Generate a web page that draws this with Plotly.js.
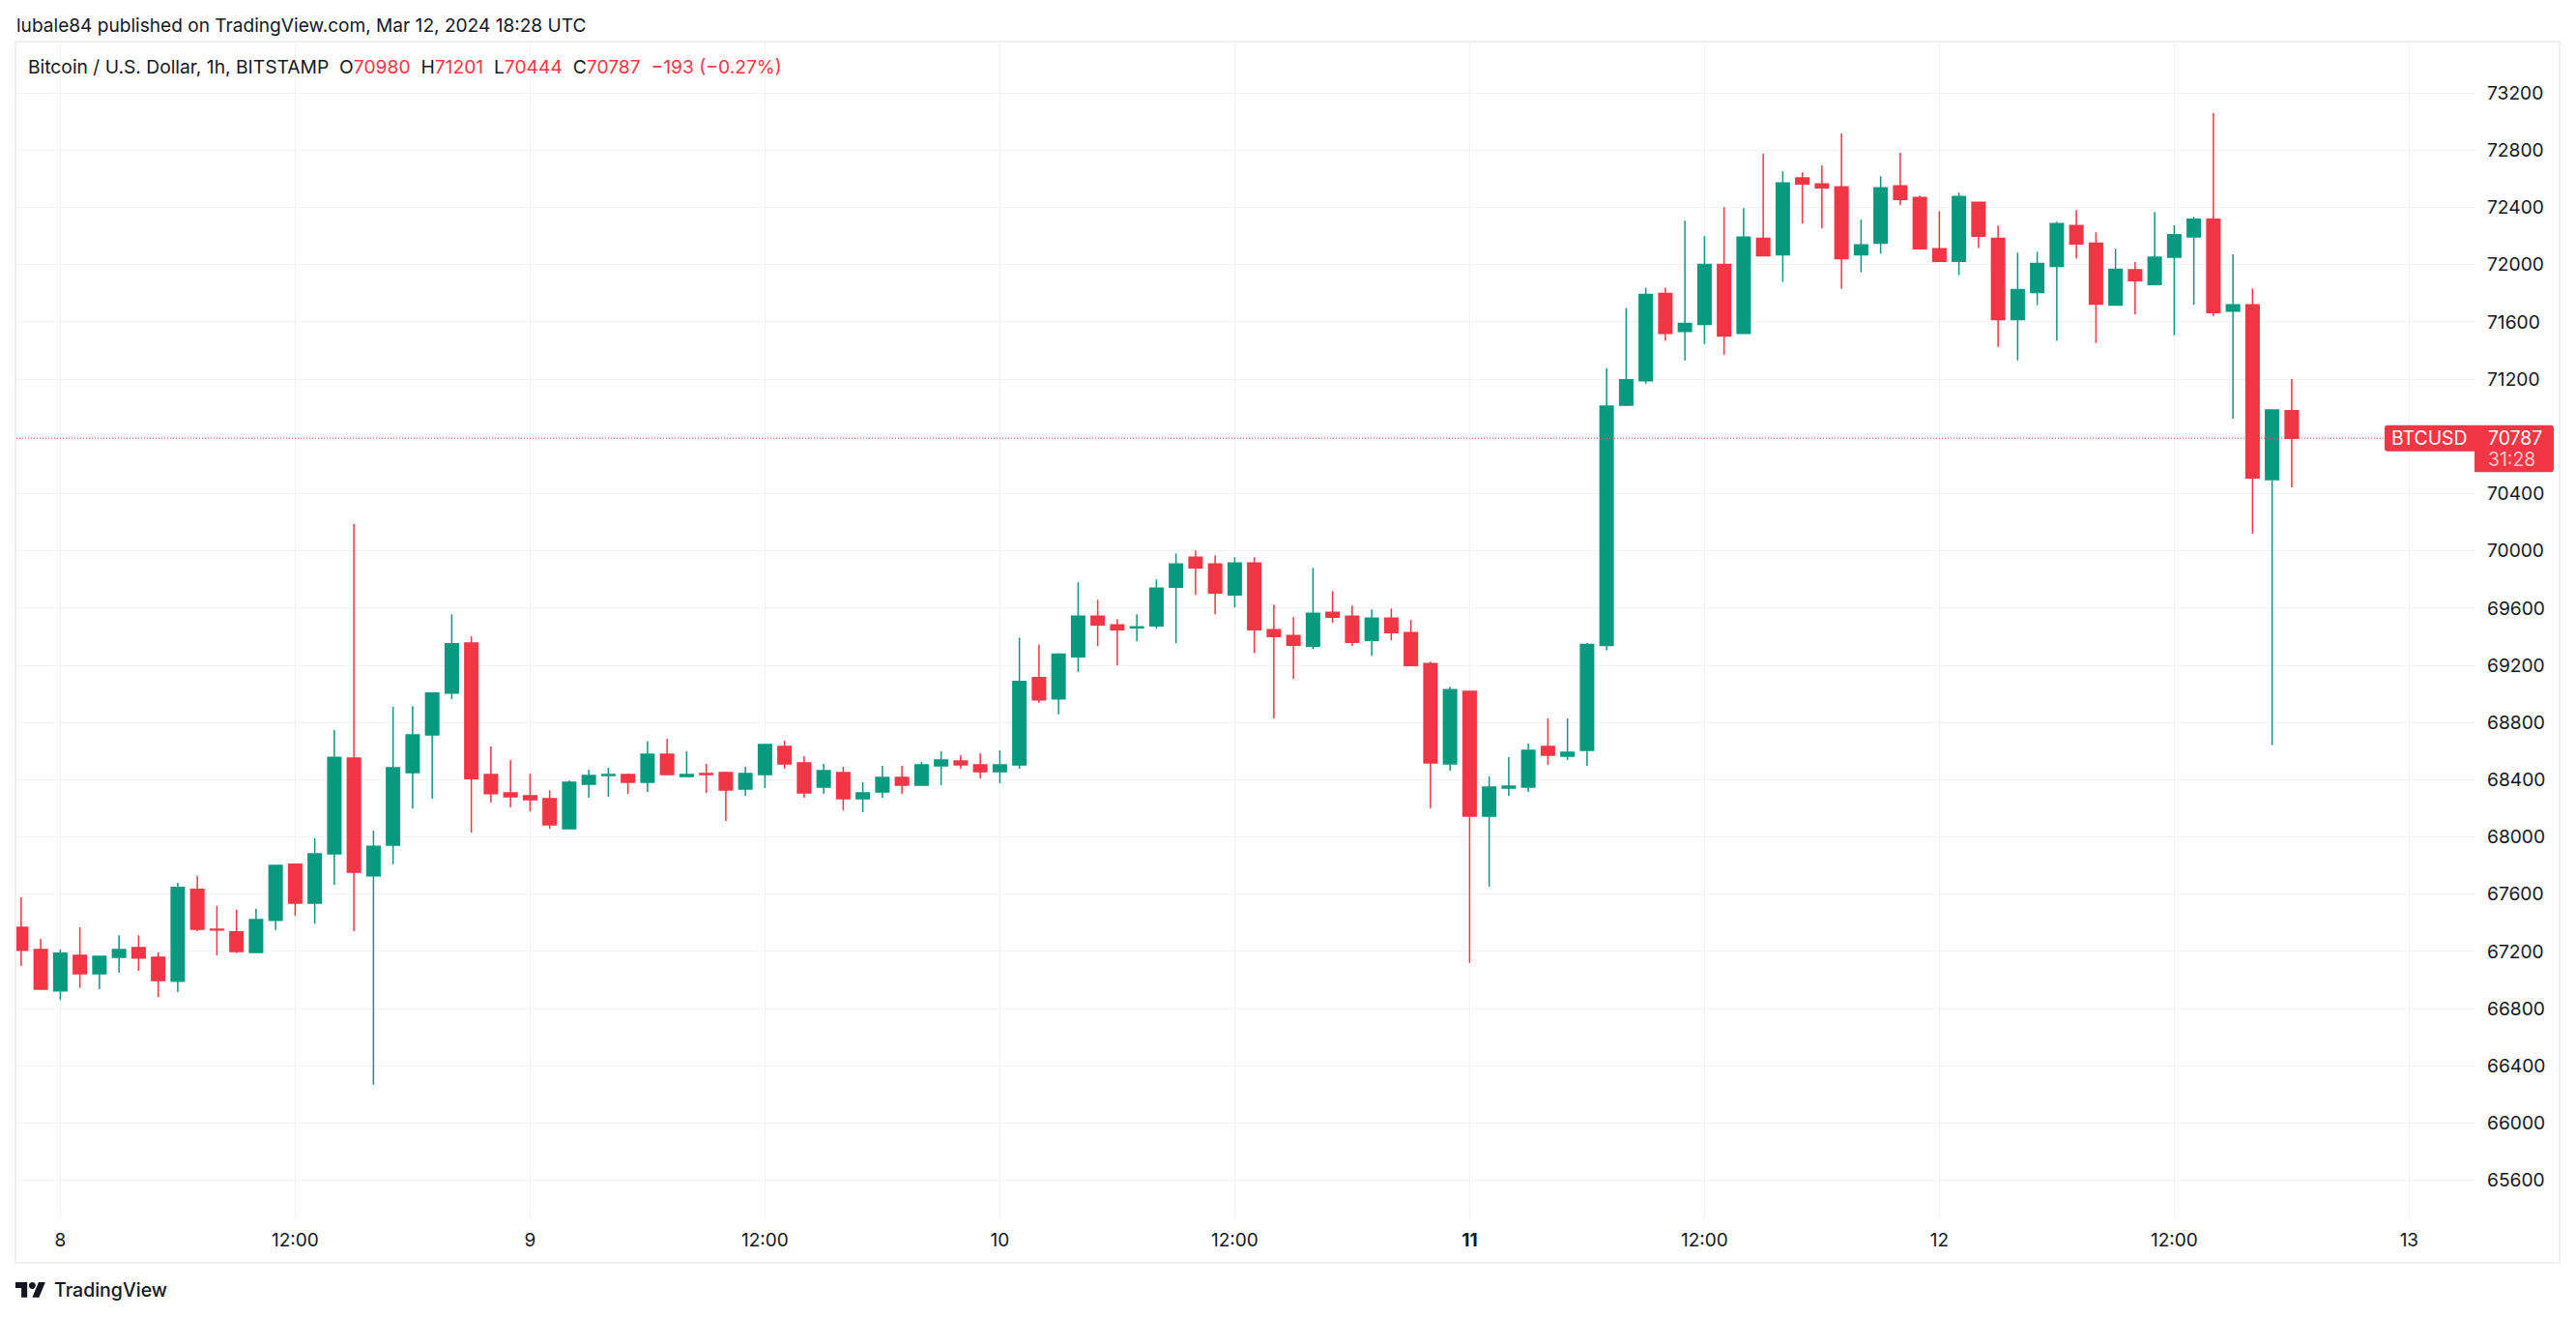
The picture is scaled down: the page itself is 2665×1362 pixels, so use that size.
<!DOCTYPE html>
<html>
<head>
<meta charset="utf-8">
<script src="https://cdn.plot.ly/plotly-3.0.1.min.js"></script>
<style>html,body{margin:0;padding:0;background:#fff}#chart{width:2665px;height:1362px}</style>
</head>
<body>
<div id="chart"></div>
<script>
const times = [
"2024-03-07 22:00","2024-03-07 23:00",
"2024-03-08 00:00","2024-03-08 01:00","2024-03-08 02:00","2024-03-08 03:00","2024-03-08 04:00","2024-03-08 05:00","2024-03-08 06:00","2024-03-08 07:00","2024-03-08 08:00","2024-03-08 09:00","2024-03-08 10:00","2024-03-08 11:00","2024-03-08 12:00","2024-03-08 13:00","2024-03-08 14:00","2024-03-08 15:00","2024-03-08 16:00","2024-03-08 17:00","2024-03-08 18:00","2024-03-08 19:00","2024-03-08 20:00","2024-03-08 21:00","2024-03-08 22:00","2024-03-08 23:00",
"2024-03-09 00:00","2024-03-09 01:00","2024-03-09 02:00","2024-03-09 03:00","2024-03-09 04:00","2024-03-09 05:00","2024-03-09 06:00","2024-03-09 07:00","2024-03-09 08:00","2024-03-09 09:00","2024-03-09 10:00","2024-03-09 11:00","2024-03-09 12:00","2024-03-09 13:00","2024-03-09 14:00","2024-03-09 15:00","2024-03-09 16:00","2024-03-09 17:00","2024-03-09 18:00","2024-03-09 19:00","2024-03-09 20:00","2024-03-09 21:00","2024-03-09 22:00","2024-03-09 23:00",
"2024-03-10 00:00","2024-03-10 01:00","2024-03-10 02:00","2024-03-10 03:00","2024-03-10 04:00","2024-03-10 05:00","2024-03-10 06:00","2024-03-10 07:00","2024-03-10 08:00","2024-03-10 09:00","2024-03-10 10:00","2024-03-10 11:00","2024-03-10 12:00","2024-03-10 13:00","2024-03-10 14:00","2024-03-10 15:00","2024-03-10 16:00","2024-03-10 17:00","2024-03-10 18:00","2024-03-10 19:00","2024-03-10 20:00","2024-03-10 21:00","2024-03-10 22:00","2024-03-10 23:00",
"2024-03-11 00:00","2024-03-11 01:00","2024-03-11 02:00","2024-03-11 03:00","2024-03-11 04:00","2024-03-11 05:00","2024-03-11 06:00","2024-03-11 07:00","2024-03-11 08:00","2024-03-11 09:00","2024-03-11 10:00","2024-03-11 11:00","2024-03-11 12:00","2024-03-11 13:00","2024-03-11 14:00","2024-03-11 15:00","2024-03-11 16:00","2024-03-11 17:00","2024-03-11 18:00","2024-03-11 19:00","2024-03-11 20:00","2024-03-11 21:00","2024-03-11 22:00","2024-03-11 23:00",
"2024-03-12 00:00","2024-03-12 01:00","2024-03-12 02:00","2024-03-12 03:00","2024-03-12 04:00","2024-03-12 05:00","2024-03-12 06:00","2024-03-12 07:00","2024-03-12 08:00","2024-03-12 09:00","2024-03-12 10:00","2024-03-12 11:00","2024-03-12 12:00","2024-03-12 13:00","2024-03-12 14:00","2024-03-12 15:00","2024-03-12 16:00","2024-03-12 17:00","2024-03-12 18:00"
];
const opens = [
67369,67212,66924,67173,67044,67159,67227,67159,66991,67633,
67355,67336,67193,67417,67809,67537,67882,68551,67728,67943,
68450,68714,69005,69355,68437,68308,68288,68268,68058,68368,
68429,68436,68382,68579,68423,68443,68450,68335,68436,68633,
68518,68348,68450,68267,68314,68416,68362,68497,68531,68504,
68457,68504,69114,68965,69260,69543,69482,69462,69476,69746,
69955,69908,69692,69914,69449,69408,69334,69570,69543,69374,
69530,69428,69212,68510,69017,68146,68342,68348,68633,68565,
68605,69338,71019,71189,71799,71534,71582,72002,71521,72185,
72070,72606,72565,72545,72070,72151,72551,72470,72111,72023,
72436,72185,71616,71806,71989,72273,72151,71718,71964,71862,
72052,72194,72317,71675,71720,70498,70980];
const highs = [
67579,67288,67212,67369,67165,67313,67313,67193,67680,67728,
67518,67490,67498,67801,67815,67991,68747,70187,68044,68910,
68915,69005,69557,69403,68633,68537,68442,68327,68394,68470,
68484,68443,68667,68687,68599,68511,68457,68490,68646,68673,
68565,68511,68490,68382,68497,68497,68524,68599,68572,68585,
68606,69392,69345,69284,69779,69658,69523,69557,69800,69982,
70002,69968,69955,69955,69624,69536,69881,69719,69617,69590,
69597,69516,69226,69050,69017,68423,68558,68652,68829,68829,
69358,71277,71697,71840,71840,72307,72199,72402,72395,72775,
72653,72646,72694,72918,72314,72619,72782,72484,72375,72504,
72436,72273,72084,72090,72301,72382,72226,72112,72019,72369,
72275,72335,73059,72073,71835,70984,71201];
const lows = [
67098,66930,66862,66944,66935,67050,67064,66882,66916,67341,
67173,67187,67193,67350,67450,67394,67666,67341,66268,67809,
68198,68268,68963,68030,68240,68207,68179,68058,68058,68274,
68280,68301,68314,68436,68423,68307,68111,68287,68341,68477,
68274,68301,68185,68172,68274,68301,68362,68362,68477,68409,
68375,68477,68938,68857,69152,69334,69199,69368,69456,69354,
69692,69557,69604,69287,68828,69104,69314,69496,69334,69266,
69374,69199,68200,68463,67120,67653,68288,68315,68504,68538,
68497,69304,71012,71168,71467,71331,71446,71372,71521,72063,
71880,72287,72253,71833,71948,72077,72416,72111,72023,71928,
72117,71426,71331,71718,71467,72043,71453,71718,71654,71862,
71506,71720,71642,70924,70121,68643,70444];
const closes = [
67207,66935,67187,67044,67165,67212,67154,66997,67647,67355,
67350,67199,67423,67801,67537,67882,68557,67753,67935,68484,
68714,69005,69350,68408,68302,68280,68260,68084,68383,68429,
68436,68382,68579,68436,68436,68436,68328,68443,68646,68511,
68307,68463,68267,68307,68416,68362,68504,68538,68504,68457,
68504,69087,68958,69277,69543,69482,69449,69469,69739,69908,
69881,69705,69914,69449,69401,69341,69563,69536,69361,69530,
69428,69199,68517,69030,68146,68348,68355,68605,68572,68592,
69345,71012,71195,71792,71521,71589,72002,71501,72192,72063,
72572,72565,72538,72043,72138,72538,72456,72111,72023,72477,
72199,71616,71826,72009,72287,72145,71724,71968,71889,72052,
72209,72317,71666,71720,70510,70984,70787];

const xTickVals = ["2024-03-08 00:00","2024-03-08 12:00","2024-03-09 00:00","2024-03-09 12:00","2024-03-10 00:00","2024-03-10 12:00","2024-03-11 00:00","2024-03-11 12:00","2024-03-12 00:00","2024-03-12 12:00","2024-03-13 00:00"];
const xTickText = ["8","12:00","9","12:00","10","12:00","<b>11</b>","12:00","12","12:00","13"];
const yTickVals = [65600,66000,66400,66800,67200,67600,68000,68400,68800,69200,69600,70000,70400,70800,71200,71600,72000,72400,72800,73200];
const lastClose = 70787;
const UP = "#089981", DOWN = "#F23645", INK = "#131722", GRID = "#f1f2f5", FRAME = "#eff0f5";
const FONT = "Inter, 'Open Sans', sans-serif";

const L = 17, R = 2560, T = 44, B = 1261;
const px = v => (v - L) / (R - L);
const py = v => (B - v) / (B - T);
const fixed = (x, y, text, size, extra) => Object.assign({
  xref: "paper", yref: "paper", x: px(x), y: py(y), text, showarrow: false,
  xanchor: "left", yanchor: "middle", align: "left",
  font: {family: FONT, size, color: INK}
}, extra || {});
const red = s => '<span style="color:' + DOWN + '">' + s + '</span>';

const trace = {
  type: "candlestick", x: times, open: opens, high: highs, low: lows, close: closes,
  increasing: {line: {color: UP, width: 1.5}, fillcolor: UP},
  decreasing: {line: {color: DOWN, width: 1.5}, fillcolor: DOWN},
  whiskerwidth: 0, showlegend: false, hoverinfo: "none"
};

const layout = {
  width: 2665, height: 1362, autosize: false,
  margin: {l: L, r: 2665 - R, t: T, b: 1362 - B, pad: 0},
  paper_bgcolor: "#fff", plot_bgcolor: "#fff",
  showlegend: false, dragmode: false,
  boxgap: 0.183, boxgroupgap: 0.183,
  font: {family: FONT, color: INK},
  xaxis: {
    type: "date", range: ["2024-03-07 21:45:30", "2024-03-13 03:20:24"],
    tickmode: "array", tickvals: xTickVals, ticktext: xTickText, tickangle: 0,
    showgrid: true, gridcolor: GRID, gridwidth: 1, zeroline: false, showline: false,
    ticks: "", ticklabelstandoff: 8, tickfont: {family: FONT, size: 19, color: INK},
    rangeslider: {visible: false}
  },
  yaxis: {
    side: "right", range: [65327, 73553],
    tickmode: "array", tickvals: yTickVals, ticktext: yTickVals.map(String), tickangle: 0,
    showgrid: true, gridcolor: GRID, gridwidth: 1, zeroline: false, showline: false,
    ticks: "", ticklabelstandoff: 12, tickfont: {family: FONT, size: 19.2, color: INK}
  },
  shapes: [
    {type: "rect", xref: "paper", yref: "paper", x0: px(16), x1: px(2648), y0: py(1306), y1: py(43),
     line: {color: FRAME, width: 2}, fillcolor: "rgba(0,0,0,0)", layer: "below"},
    {type: "line", xref: "paper", yref: "y", x0: 0, x1: 1, y0: lastClose, y1: lastClose,
     line: {color: DOWN, width: 1, dash: "1px,2px"}, layer: "above"},
    {type: "path", xref: "paper", yref: "y", xsizemode: "pixel", ysizemode: "pixel", xanchor: 1, yanchor: lastClose,
     path: "M-90 13.5H79Q82 13.5 82 10.5V-32Q82 -35 79 -35H0V-13.5H-90Q-93 -13.5 -93 -10.5V10.5Q-93 13.5 -90 13.5Z",
     fillcolor: DOWN, line: {width: 0}, layer: "above"},
    {type: "path", xref: "paper", yref: "paper", xsizemode: "pixel", ysizemode: "pixel", xanchor: 0, yanchor: 0,
     path: "M11.18 -80.66H5.09V-71.09H-1V-65H11.18ZM23.36 -80.66H16.4L22.93 -65H29.89Z" +
           "M12.92 -68.48C12.92 -66.56 14.48 -65 16.4 -65C18.32 -65 19.88 -66.56 19.88 -68.48C19.88 -70.4 18.32 -71.96 16.4 -71.96C14.48 -71.96 12.92 -70.4 12.92 -68.48Z",
     fillcolor: INK, line: {width: 0}, layer: "above"}
  ],
  annotations: [
    fixed(15, 26, "lubale84 published on TradingView.com, Mar 12, 2024 18:28 UTC", 19.1),
    fixed(27, 68.7, "Bitcoin / U.S. Dollar, 1h, BITSTAMP\u00a0\u00a0O" + red("70980") + "\u00a0\u00a0H" + red("71201") +
      "\u00a0\u00a0L" + red("70444") + "\u00a0\u00a0C" + red("70787") + "\u00a0\u00a0" + red("\u2212193 (\u22120.27%)"), 19.25),
    fixed(54, 1334, "TradingView", 19.5, {font: {family: FONT, size: 19.5, color: INK, weight: 500}}),
    {xref: "paper", yref: "y", x: px(2472), y: lastClose, text: "BTCUSD", showarrow: false, xanchor: "left", yanchor: "middle",
     font: {family: FONT, size: 19.4, color: "#fff"}},
    {xref: "paper", yref: "y", x: px(2572), y: lastClose, text: String(lastClose), showarrow: false, xanchor: "left", yanchor: "middle",
     font: {family: FONT, size: 19.4, color: "#fff"}},
    {xref: "paper", yref: "y", x: px(2572), y: lastClose, yshift: -22, text: "31:28", showarrow: false, xanchor: "left", yanchor: "middle",
     font: {family: FONT, size: 19.4, color: "rgba(255,255,255,0.72)"}}
  ]
};

Plotly.newPlot("chart", [trace], layout, {displayModeBar: false, staticPlot: true});
</script>
</body>
</html>
